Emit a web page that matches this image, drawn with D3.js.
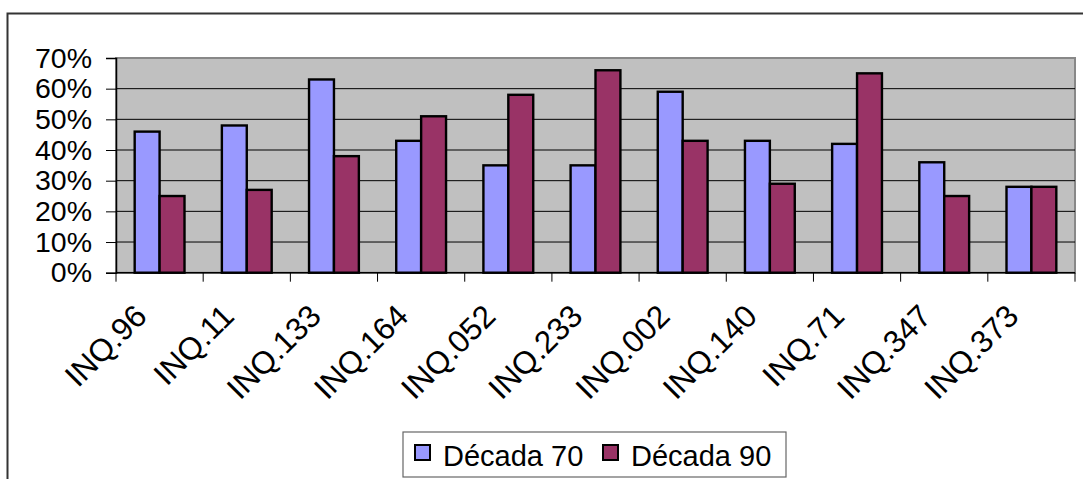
<!DOCTYPE html>
<html>
<head>
<meta charset="utf-8">
<script src="https://cdn.jsdelivr.net/npm/d3@7"></script>
<style>
  body { margin: 0; background: #fff; }
  text { font-family: "Liberation Sans", Arial, sans-serif; fill: #000; }
</style>
</head>
<body>
<div id="chart"></div>
<script>
const categories = ['INQ.96', 'INQ.11', 'INQ.133', 'INQ.164', 'INQ.052', 'INQ.233',
  'INQ.002', 'INQ.140', 'INQ.71', 'INQ.347', 'INQ.373'];
const seriesNames = ['Década 70', 'Década 90'];
const decada70 = [0.46, 0.48, 0.63, 0.43, 0.35, 0.35, 0.59, 0.43, 0.42, 0.36, 0.28];
const decada90 = [0.25, 0.27, 0.38, 0.51, 0.58, 0.66, 0.43, 0.29, 0.65, 0.25, 0.28];
const yTicks = [0, 0.1, 0.2, 0.3, 0.4, 0.5, 0.6, 0.7];
const colors = ['#9999ff', '#993366'];

const width = 1083, height = 479;
const plot = { left: 116, right: 1075, top: 58, bottom: 272.7 };

const svg = d3.select('#chart')
  .append('svg')
  .attr('width', width)
  .attr('height', height);

// outer chart border (right/bottom fall outside the picture)
svg.append('path')
  .attr('d', `M7.5,${height} V13.5 H${width}`)
  .attr('fill', 'none')
  .attr('stroke', '#333')
  .attr('stroke-width', 2);

const x = d3.scaleBand()
  .domain(categories)
  .range([plot.left, plot.right]);

const xSub = d3.scaleBand()
  .domain(seriesNames)
  .range([0, x.bandwidth()])
  .paddingInner(0)
  .paddingOuter(0.75);

const y = d3.scaleLinear()
  .domain([0, 0.7])
  .range([plot.bottom, plot.top]);

// plot background
svg.append('rect')
  .attr('x', plot.left)
  .attr('y', plot.top)
  .attr('width', plot.right - plot.left)
  .attr('height', plot.bottom - plot.top)
  .attr('fill', '#c0c0c0')
  .attr('stroke', '#888')
  .attr('stroke-width', 2);

// gridlines
svg.append('g')
  .selectAll('line')
  .data(yTicks.slice(1))
  .join('line')
  .attr('x1', plot.left)
  .attr('x2', plot.right)
  .attr('y1', d => y(d))
  .attr('y2', d => y(d))
  .attr('stroke', d => d === 0.7 ? '#888' : '#000')
  .attr('stroke-width', d => d === 0.7 ? 2 : 1);

// bars
const rows = categories.map((c, i) => ({ cat: c, values: [decada70[i], decada90[i]] }));

svg.append('g')
  .selectAll('g')
  .data(rows)
  .join('g')
  .attr('transform', d => `translate(${x(d.cat)},0)`)
  .selectAll('rect')
  .data(d => d.values.map((v, j) => ({ name: seriesNames[j], v, j })))
  .join('rect')
  .attr('x', d => xSub(d.name))
  .attr('y', d => y(d.v))
  .attr('width', xSub.bandwidth())
  .attr('height', d => y(0) - y(d.v))
  .attr('fill', d => colors[d.j])
  .attr('stroke', '#000')
  .attr('stroke-width', 2.4);

// y axis
const yAxis = svg.append('g')
  .attr('transform', `translate(${plot.left},0)`)
  .call(d3.axisLeft(y)
    .tickValues(yTicks)
    .tickFormat(d3.format('.0%'))
    .tickSize(10)
    .tickPadding(14));
yAxis.select('.domain').attr('stroke', '#000').attr('stroke-width', 1.5);
yAxis.selectAll('.tick line').attr('stroke', '#000');
yAxis.selectAll('text')
  .attr('font-size', 28.5)
  .attr('font-family', '"Liberation Sans", Arial, sans-serif')
  .attr('fill', '#000');

// x axis line and boundary ticks
svg.append('line')
  .attr('x1', plot.left)
  .attr('x2', plot.right)
  .attr('y1', plot.bottom)
  .attr('y2', plot.bottom)
  .attr('stroke', '#000')
  .attr('stroke-width', 1.5);

svg.append('g')
  .selectAll('line')
  .data(categories.map(c => x(c)).concat([x.range()[1]]))
  .join('line')
  .attr('x1', d => d)
  .attr('x2', d => d)
  .attr('y1', plot.bottom)
  .attr('y2', plot.bottom + 9)
  .attr('stroke', '#000');

// rotated category labels
svg.append('g')
  .selectAll('text')
  .data(categories)
  .join('text')
  .attr('transform', d => `translate(${x(d) + x.bandwidth() / 2 - 11},318) rotate(-45)`)
  .attr('text-anchor', 'end')
  .attr('font-size', 31.5)
  .text(d => d);

// legend
const legend = svg.append('g');
legend.append('rect')
  .attr('x', 403)
  .attr('y', 432)
  .attr('width', 383)
  .attr('height', 45)
  .attr('fill', '#fff')
  .attr('stroke', '#666')
  .attr('stroke-width', 1.2);

const legendX = [415, 603];
seriesNames.forEach((name, i) => {
  legend.append('rect')
    .attr('x', legendX[i])
    .attr('y', 445)
    .attr('width', 15)
    .attr('height', 15)
    .attr('fill', colors[i])
    .attr('stroke', '#000')
    .attr('stroke-width', 2);
  legend.append('text')
    .attr('x', legendX[i] + 28)
    .attr('y', 466)
    .attr('font-size', 29)
    .text(name);
});
</script>
</body>
</html>
